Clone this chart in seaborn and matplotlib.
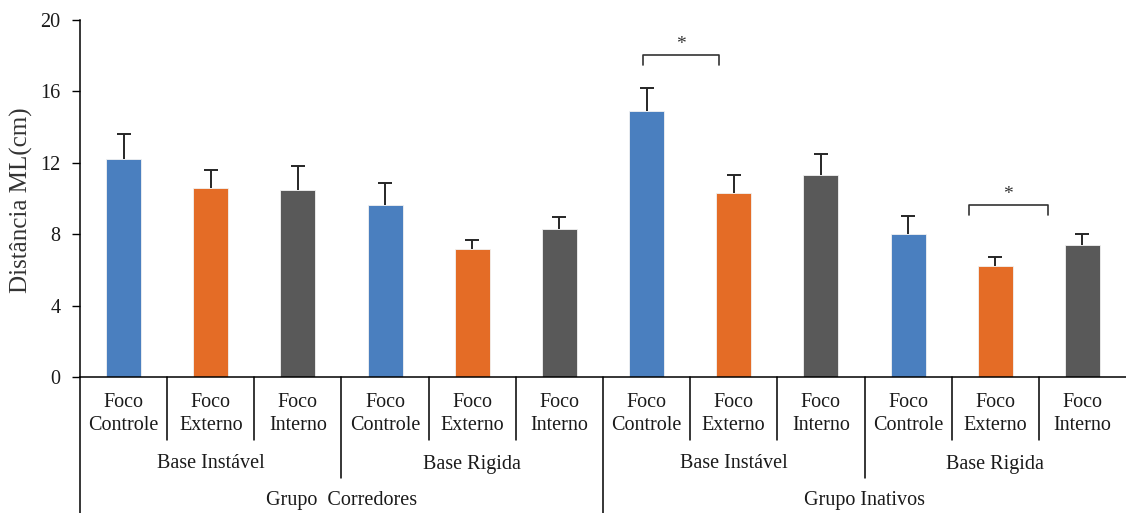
import numpy as np
import pandas as pd
import matplotlib
matplotlib.use("Agg")
import matplotlib.pyplot as plt
import matplotlib.transforms as mtransforms
import seaborn as sns

# Mean mediolateral displacement (cm) and upper error per condition
groups = ["Grupo  Corredores", "Grupo Inativos"]
bases = ["Base Instável", "Base Rigida"]
focus = ["Foco\nControle", "Foco\nExterno", "Foco\nInterno"]
focus_keys = ["Controle", "Externo", "Interno"]

means = [12.2, 10.6, 10.5, 9.65, 7.15, 8.3,
         14.9, 10.3, 11.3, 8.0, 6.2, 7.4]
errors = [1.4, 1.0, 1.3, 1.2, 0.5, 0.65,
          1.3, 1.0, 1.2, 1.0, 0.5, 0.6]

y_ticks = [0, 4, 8, 12, 16, 20]

# significance brackets: (left x, right x, height), in category units
brackets = [(5.955, 6.83, 18.02), (9.7, 10.6, 9.64)]

colors = {"Controle": "#4A7FBF", "Externo": "#E46C26", "Interno": "#595959"}
text_color = "#1a1a1a"

rows = []
i = 0
for g in groups:
    for b in bases:
        for fk in focus_keys:
            rows.append({"cond": f"{g}|{b}|{fk}", "foco": fk,
                         "valor": means[i], "erro": errors[i]})
            i += 1
df = pd.DataFrame(rows)

sns.set_style("white")
plt.rcParams["font.family"] = ["Liberation Serif", "DejaVu Serif"]

W, H = 1126, 513
fig = plt.figure(figsize=(W / 100, H / 100), dpi=100)
ax = fig.add_axes([80 / W, 1 - 377 / H, (W - 80) / W, (377 - 20) / H])

sns.barplot(data=df, x="cond", y="valor", hue="foco", palette=colors,
            saturation=1, dodge=False, width=0.4, errorbar=None,
            legend=False, ax=ax, edgecolor="#f2f2f2", linewidth=0.6)

# upward-only error bars
xs = np.arange(len(df))
_, caps, _ = ax.errorbar(xs, df["valor"],
                         yerr=[np.zeros(len(df)), df["erro"]],
                         fmt="none", ecolor="#262626", elinewidth=1.4,
                         capsize=5, capthick=1.4)
caps[0].set_visible(False)

ax.set_xlim(-0.5, len(df) - 0.5)
ax.set_ylim(0, 20)
ax.set_yticks(y_ticks)
ax.set_xticks([])
ax.set_xlabel("")
ax.set_ylabel("Distância ML(cm)", fontsize=18, color="#333333")
ax.yaxis.set_label_coords(-0.045, 0.496)
ax.tick_params(axis="y", direction="out", length=6, width=1, pad=8,
               labelsize=14.5, colors="black", left=True)
for lbl in ax.get_yticklabels():
    lbl.set_color(text_color)
for s in ["top", "right"]:
    ax.spines[s].set_visible(False)
for s in ["left", "bottom"]:
    ax.spines[s].set_color("black")
    ax.spines[s].set_linewidth(1.1)

# hierarchical category axis below the bars
trans = mtransforms.blended_transform_factory(ax.transData, fig.transFigure)


def fy(px):
    return 1 - px / H


line_kw = dict(color="black", lw=1.1, transform=trans, clip_on=False)
for k in range(1, len(df)):
    x = k - 0.5
    if k % 6 == 0:
        bottom = 513
    elif k % 3 == 0:
        bottom = 478
    else:
        bottom = 440
    ax.plot([x, x], [fy(377), fy(bottom)], **line_kw)
ax.plot([-0.5, -0.5], [fy(377), fy(513)], **line_kw)

for k in range(len(df)):
    ax.text(k, fy(414), focus[k % 3], transform=trans, ha="center",
            va="center", fontsize=14.5, color=text_color, linespacing=1.3)
for j in range(4):
    ax.text(j * 3 + 1, fy(464), bases[j % 2], transform=trans, ha="center",
            va="center", fontsize=14.5, color=text_color)
for j in range(2):
    ax.text(j * 6 + 2.5, fy(500), groups[j], transform=trans, ha="center",
            va="center", fontsize=14.5, color=text_color)

# significance brackets with asterisks
for x0, x1, yb in brackets:
    ax.plot([x0, x0, x1, x1], [yb - 0.55, yb, yb, yb - 0.55],
            color="#333333", lw=1.2, clip_on=False)
    ax.text((x0 + x1) / 2, yb + 0.6, "*", ha="center", va="center",
            fontsize=14, color="#333333")

fig.savefig("out.png", dpi=100)
